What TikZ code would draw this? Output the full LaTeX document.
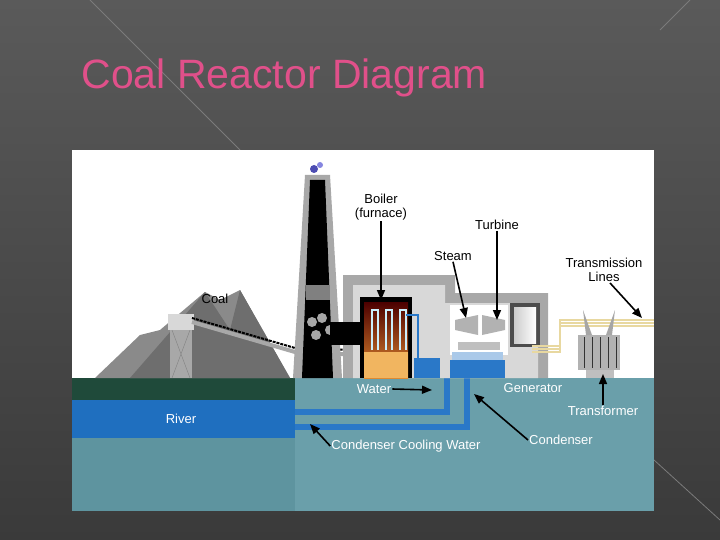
\documentclass[tikz,border=0pt]{standalone}
\usepackage{fontspec}
\setmainfont{Liberation Sans}
\usetikzlibrary{arrows.meta}
\definecolor{bgd}{HTML}{3A3A3A}
\definecolor{bgl}{HTML}{5A5A5A}
\definecolor{ttl}{HTML}{E0508A}
\definecolor{grnd}{HTML}{1F4A3A}
\definecolor{river}{HTML}{1F6FBF}
\definecolor{teal}{HTML}{6A9FAA}
\definecolor{teal2}{HTML}{5E949F}
\definecolor{wall}{HTML}{A8A8A8}
\definecolor{inner}{HTML}{D8D8D8}
\definecolor{pile}{HTML}{8A8A8A}
\definecolor{fire}{HTML}{E08A30}
\definecolor{pipe}{HTML}{2A78C8}
\definecolor{yel}{HTML}{E8D8A0}
\tikzset{
 lbl/.style={font=\fontsize{13}{14}\selectfont, inner sep=1pt, align=center},
 wl/.style={lbl, text=white},
 arr/.style={-{Triangle[width=8pt,length=10pt]}, line width=1.6pt, black},
}
\begin{document}
\begin{tikzpicture}[x=1pt,y=-1pt]
\useasboundingbox (0,0) rectangle (720,540);
\shade[top color=bgl, bottom color=bgd] (0,0) rectangle (720,540);
\draw[bgl!80!white, line width=0.8pt] (90,0) -- (240,150) (654,460) -- (720,520) (690,0) -- (660,30);
\node[font=\fontsize{41}{43}\selectfont, text=ttl, anchor=west] (title) at (78,78) {Coal Reactor Diagram};
% panel
\fill[white] (72,150) rectangle (654,511);
% ground
\fill[teal] (72,378) rectangle (654,511);
\fill[teal2] (72,438) rectangle (295,511);
\fill[grnd] (72,378) rectangle (295,400);
\fill[river] (72,400) rectangle (295,438);
% cooling pipes
\fill[pipe] (295,409) rectangle (450,415);
\fill[pipe] (295,424) rectangle (470,430);
\fill[pipe] (444,378) rectangle (450,415);
\fill[pipe] (464,378) rectangle (470,430);
% coal piles
\fill[pile] (95,378) -- (140,335) -- (160,330) -- (205,292) -- (220,300) -- (240,290) -- (290,378) -- cycle;
\fill[pile!80!black] (130,378) -- (205,292) -- (230,330) -- (240,290) -- (290,378) -- cycle;
% conveyor tower
\fill[wall] (170,318) rectangle (192,378);
\draw[gray] (172,330) -- (190,378) (190,330) -- (172,378);
\fill[inner] (168,314) rectangle (194,330);
\draw[wall, line width=4pt] (192,322) -- (295,352) -- (360,355);
\draw[black, line width=2pt, dash pattern=on 3pt off 1pt] (192,318) -- (295,348) -- (355,350);
% building
\fill[wall] (343,275) -- (455,275) -- (455,293) -- (548,293) -- (548,378) -- (343,378) -- cycle;
\fill[inner] (353,285) -- (445,285) -- (445,303) -- (538,303) -- (538,378) -- (353,378) -- cycle;
% chimney
\fill[wall] (305,175) -- (330,175) -- (342,378) -- (293,378) -- cycle;
\fill[black] (310,180) -- (325,180) -- (333,378) -- (302,378) -- cycle;
\fill[gray] (306,285) rectangle (330,300);
\foreach \x/\y in {312/322,322/318,330/330,316/335,345/330}{\fill[gray!70] (\x,\y) circle (5);}
\fill[black] (330,322) rectangle (360,345);
\fill[blue!40!gray] (314,169) circle (4);
\fill[blue!60!gray!60] (320,165) circle (3);
% boiler
\fill[black] (360,297) rectangle (412,378);
\shade[top color=black!70!red, bottom color=fire] (364,302) rectangle (408,378);
\fill[yel!60!orange] (364,352) rectangle (408,378);
\foreach \x in {372,386,400}{\draw[white!80!cyan, line width=2pt] (\x,350) -- (\x,310) -- (\x+6,310) -- (\x+6,350);}
\draw[pipe, line width=2pt] (406,315) -- (418,315) -- (418,378);
\fill[pipe] (414,358) rectangle (440,378);
% turbine & condenser
\fill[white] (450,305) rectangle (508,355);
\fill[gray!60] (455,320) -- (478,315) -- (478,335) -- (455,330) -- cycle;
\fill[gray!60] (505,320) -- (482,315) -- (482,335) -- (505,330) -- cycle;
\fill[gray!50] (458,342) rectangle (500,350);
\fill[pipe] (450,360) rectangle (505,378);
\fill[pipe!40!white] (452,352) rectangle (503,360);
% generator
\fill[gray!60!black] (510,303) rectangle (540,347);
\shade[left color=gray!40, right color=white] (514,307) rectangle (536,343);
% transmission lines
\foreach \o in {0,3,6}{\draw[yel, line width=1.2pt] (532,352-\o) -- (560,352-\o) -- (560,320+\o) -- (654,320+\o);}
% transformer
\fill[gray!60] (578,335) rectangle (620,370);
\foreach \x in {584,592,600,608,616}{\draw[gray!40!black] (\x,337) -- (\x,368);}
\fill[gray!70] (583,310) -- (592,335) -- (586,335) -- cycle;
\fill[gray!70] (615,310) -- (612,335) -- (606,335) -- cycle;
\fill[gray!50] (586,370) rectangle (614,378);
% labels
\node[lbl] (boiler) at (381,207) {Boiler\\(furnace)};
\coordinate (boilerT) at (381,300);
\draw[arr] (boiler.south) -- (boilerT);
\node[lbl] (turbine) at (497,225) {Turbine};
\coordinate (turbineT) at (497,320);
\draw[arr] (turbine.south) -- (turbineT);
\node[lbl] (steam) at (453,256) {Steam};
\coordinate (steamT) at (466,318);
\draw[arr] (steam.south) -- (steamT);
\node[lbl] (trans) at (604,270) {Transmission\\Lines};
\coordinate (transT) at (642,318);
\draw[arr] ([xshift=6pt]trans.south) -- (transT);
\node[lbl] (coal) at (215,299) {Coal};
\node[wl] (water) at (374,389) {Water};
\coordinate (waterT) at (432,390);
\draw[arr] (water.east) -- (waterT);
\node[wl] (gen) at (533,388) {Generator};
\node[wl] (tf) at (603,411) {Transformer};
\coordinate (tfT) at (603,374);
\draw[arr] (tf.north) -- (tfT);
\node[wl] (river) at (181,419) {River};
\node[wl] (ccw) at (406,446) {Condenser Cooling Water};
\coordinate (ccwT) at (310,424);
\draw[arr] (ccw.west) -- (ccwT);
\node[wl] (cond) at (561,440) {Condenser};
\coordinate (condT) at (474,394);
\draw[arr] (cond.west) -- (condT);
\end{tikzpicture}
\end{document}
